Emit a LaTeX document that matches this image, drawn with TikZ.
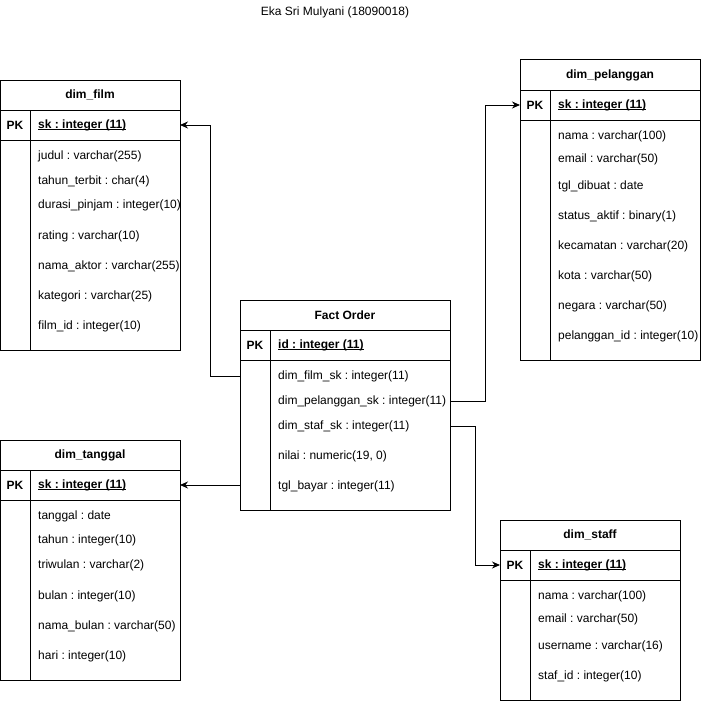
\documentclass[tikz,border=0pt]{standalone}
\usepackage{fontspec}
\setmainfont{Liberation Sans}
\usetikzlibrary{arrows.meta,positioning}
\frenchspacing
\newcommand\keyline[1]{\setbox0\hbox{#1}\rlap{\rule[-1.6pt]{\wd0}{0.9pt}}\box0}
\begin{document}
\begin{tikzpicture}[x=1pt,y=-1pt,font=\fontsize{12}{14}\selectfont,
    tbl/.style={draw, line width=1pt, inner sep=0pt, outer sep=0pt, anchor=north west},
    head/.style={draw, line width=1pt, minimum height=30pt, inner sep=0pt, outer sep=0pt, anchor=north west, font=\fontsize{12}{14}\selectfont\bfseries},
    pkrow/.style={draw, line width=1pt, minimum height=30pt, inner sep=0pt, outer sep=0pt},
    pk/.style={inner sep=0pt, font=\fontsize{12}{14}\selectfont\bfseries},
    field/.style={anchor=west, inner sep=0pt},
    arr/.style={-{Stealth[length=8pt,width=7pt]}, line width=1pt}]
  \useasboundingbox (0,0) rectangle (709,701);
  \node (Title) at (335,12) {Eka Sri Mulyani (18090018)};

  \node[tbl, minimum width=180pt, minimum height=270pt] (Film) at (0,80) {};
  \node[head, minimum width=180pt] (FilmH) at (0,80) {dim\_film};
  \node[pkrow, minimum width=180pt, below=0pt of FilmH] (FilmPK) {};
  \draw[line width=1pt] ([xshift=30pt]FilmPK.north west) -- ([xshift=30pt]Film.south west);
  \node[pk] (FilmPKL) at ([xshift=15pt]FilmPK.west) {PK};
  \node[pk, field] (FilmSK) at ([xshift=38pt]FilmPK.west) {\keyline{sk : integer (11)}};
  \foreach \y/\t [count=\i] in {156/judul : varchar(255), 181/tahun\_terbit : char(4), 205/durasi\_pinjam : integer(10), 236/rating : varchar(10), 266/nama\_aktor : varchar(255), 296/kategori : varchar(25), 326/film\_id : integer(10)}
    \node[field] (FilmF\i) at (38,\y) {\t};

  \node[tbl, minimum width=180pt, minimum height=300pt] (Pel) at (520,60) {};
  \node[head, minimum width=180pt] (PelH) at (520,60) {dim\_pelanggan};
  \node[pkrow, minimum width=180pt, below=0pt of PelH] (PelPK) {};
  \draw[line width=1pt] ([xshift=30pt]PelPK.north west) -- ([xshift=30pt]Pel.south west);
  \node[pk] (PelPKL) at ([xshift=15pt]PelPK.west) {PK};
  \node[pk, field] (PelSK) at ([xshift=38pt]PelPK.west) {\keyline{sk : integer (11)}};
  \foreach \y/\t [count=\i] in {136/nama : varchar(100), 159/email : varchar(50), 186/tgl\_dibuat : date, 216/status\_aktif : binary(1), 246/kecamatan : varchar(20), 276/kota : varchar(50), 306/negara : varchar(50), 336/pelanggan\_id : integer(10)}
    \node[field] (PelF\i) at (558,\y) {\t};

  \node[tbl, minimum width=210pt, minimum height=210pt] (Fact) at (240,300) {};
  \node[head, minimum width=210pt] (FactH) at (240,300) {Fact Order};
  \node[pkrow, minimum width=210pt, below=0pt of FactH] (FactPK) {};
  \draw[line width=1pt] ([xshift=30pt]FactPK.north west) -- ([xshift=30pt]Fact.south west);
  \node[pk] (FactPKL) at ([xshift=15pt]FactPK.west) {PK};
  \node[pk, field] (FactID) at ([xshift=38pt]FactPK.west) {\keyline{id : integer (11)}};
  \foreach \y/\t [count=\i] in {376/dim\_film\_sk : integer(11), 401/dim\_pelanggan\_sk : integer(11), 426/dim\_staf\_sk : integer(11), 456/{nilai : numeric(19, 0)}, 486/tgl\_bayar : integer(11)}
    \node[field] (FactF\i) at (278,\y) {\t};

  \node[tbl, minimum width=180pt, minimum height=240pt] (Tgl) at (0,440) {};
  \node[head, minimum width=180pt] (TglH) at (0,440) {dim\_tanggal};
  \node[pkrow, minimum width=180pt, below=0pt of TglH] (TglPK) {};
  \draw[line width=1pt] ([xshift=30pt]TglPK.north west) -- ([xshift=30pt]Tgl.south west);
  \node[pk] (TglPKL) at ([xshift=15pt]TglPK.west) {PK};
  \node[pk, field] (TglSK) at ([xshift=38pt]TglPK.west) {\keyline{sk : integer (11)}};
  \foreach \y/\t [count=\i] in {516/tanggal : date, 540/tahun : integer(10), 565/triwulan : varchar(2), 596/bulan : integer(10), 626/nama\_bulan : varchar(50), 656/hari : integer(10)}
    \node[field] (TglF\i) at (38,\y) {\t};

  \node[tbl, minimum width=180pt, minimum height=180pt] (Staff) at (500,520) {};
  \node[head, minimum width=180pt] (StaffH) at (500,520) {dim\_staff};
  \node[pkrow, minimum width=180pt, below=0pt of StaffH] (StaffPK) {};
  \draw[line width=1pt] ([xshift=30pt]StaffPK.north west) -- ([xshift=30pt]Staff.south west);
  \node[pk] (StaffPKL) at ([xshift=15pt]StaffPK.west) {PK};
  \node[pk, field] (StaffSK) at ([xshift=38pt]StaffPK.west) {\keyline{sk : integer (11)}};
  \foreach \y/\t [count=\i] in {596/nama : varchar(100), 619/email : varchar(50), 646/username : varchar(16), 676/staf\_id : integer(10)}
    \node[field] (StaffF\i) at (538,\y) {\t};

  \draw[arr] (Fact.west |- FactF1) -- ++(-30,0) |- (FilmPK.east);
  \draw[arr] (Fact.east |- FactF2) -- ++(35,0) |- (PelPK.west);
  \draw[arr] (Fact.east |- FactF3) -- ++(25,0) |- (StaffPK.west);
  \draw[arr] (Fact.west |- TglPK) -- (TglPK.east);
\end{tikzpicture}
\end{document}
